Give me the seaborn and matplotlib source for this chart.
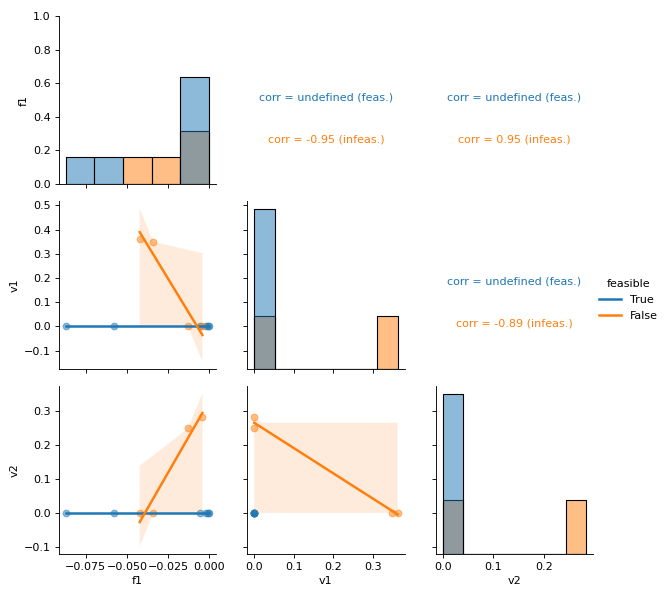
import numpy as np
import pandas as pd
import matplotlib
matplotlib.use("Agg")
import matplotlib.pyplot as plt
import seaborn as sns

# objective and constraint violations per sample
f1 = [-0.0872, -0.0577, -0.0060, -0.0018, -0.0006, -0.0002,
      -0.0423, -0.0340, -0.0130, -0.0043]
v1 = [0.0, 0.0, 0.0, 0.0, 0.0, 0.0,
      0.362, 0.349, 0.0, 0.0]
v2 = [0.0, 0.0, 0.0, 0.0, 0.0, 0.0,
      0.0, 0.0, 0.250, 0.283]
feasible = [True] * 6 + [False] * 4

df = pd.DataFrame({"f1": f1, "v1": v1, "v2": v2, "feasible": feasible})


def reg(x, y, color=None, label=None, **kws):
    sns.regplot(x=x, y=y, color=color, scatter_kws={"alpha": 0.5},
                line_kws={"label": label}, seed=3, ax=plt.gca())


def corr_text(x, y, color=None, label=None, **kws):
    ax = plt.gca()
    r = pd.Series(np.asarray(x)).corr(pd.Series(np.asarray(y)), method="spearman")
    feas = str(label) == "True"
    tag = "feas." if feas else "infeas."
    txt = f"corr = {r:.2f} ({tag})" if np.isfinite(r) else f"corr = undefined ({tag})"
    ax.annotate(txt, xy=(0.5, 0.5 if feas else 0.25), xycoords="axes fraction",
                ha="center", color=color)
    ax.set_axis_off()


g = sns.PairGrid(df, hue="feasible", hue_order=[True, False], height=2.5)
g.map_lower(reg)
g.map_diag(sns.histplot)
g.map_upper(corr_text)
g.add_legend()

g.figure.savefig("out.png", dpi=80)
